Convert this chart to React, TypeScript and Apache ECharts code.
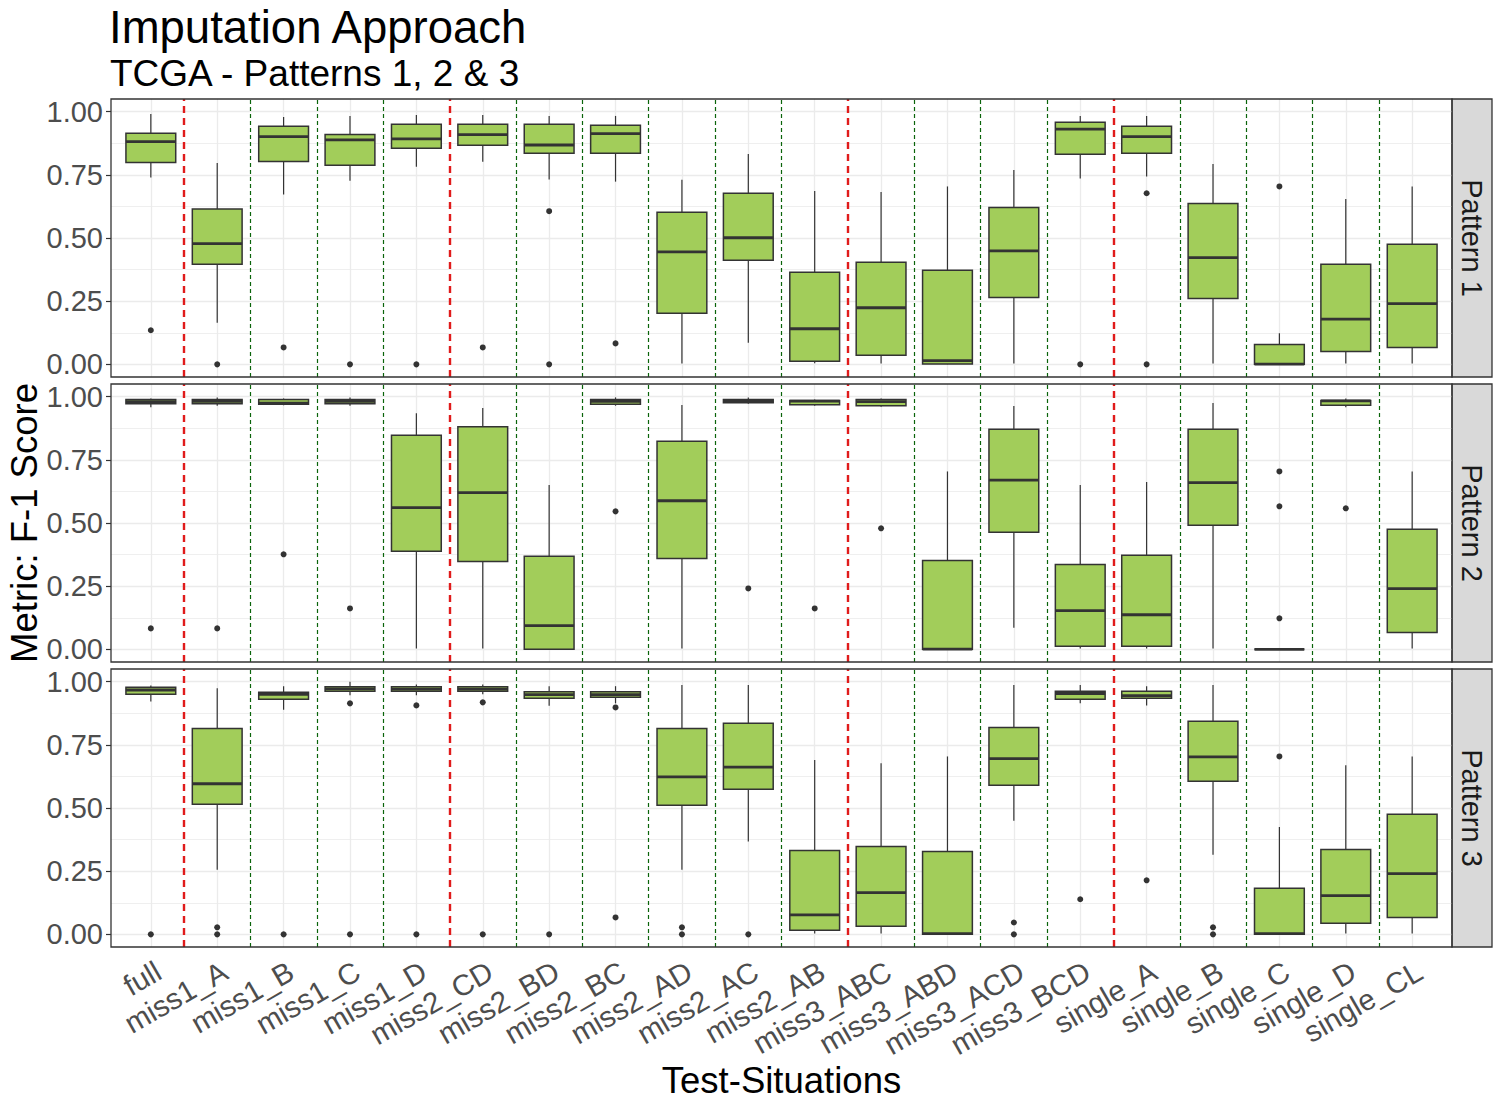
import React, { useEffect, useRef } from "react";
import * as echarts from "echarts";

const FONT = "'Liberation Sans', Arial, Helvetica, sans-serif";

const categories = [
  "full", "miss1_A", "miss1_B", "miss1_C", "miss1_D",
  "miss2_CD", "miss2_BD", "miss2_BC", "miss2_AD", "miss2_AC", "miss2_AB",
  "miss3_ABC", "miss3_ABD", "miss3_ACD", "miss3_BCD",
  "single_A", "single_B", "single_C", "single_D", "single_CL",
];

const panelNames = ["Pattern 1", "Pattern 2", "Pattern 3"];

// [lower whisker, Q1, median, Q3, upper whisker] per category
const pattern1Boxes = [
  [0.739, 0.799, 0.881, 0.914, 0.991],
  [0.165, 0.396, 0.478, 0.615, 0.797],
  [0.672, 0.803, 0.901, 0.942, 0.979],
  [0.727, 0.788, 0.888, 0.91, 0.983],
  [0.782, 0.855, 0.892, 0.95, 0.987],
  [0.802, 0.867, 0.909, 0.95, 0.987],
  [0.731, 0.835, 0.868, 0.95, 0.983],
  [0.723, 0.835, 0.913, 0.946, 0.983],
  [0.003, 0.202, 0.445, 0.602, 0.73],
  [0.086, 0.412, 0.501, 0.677, 0.832],
  [0.004, 0.012, 0.141, 0.364, 0.686],
  [0.003, 0.036, 0.224, 0.404, 0.682],
  [0.0, 0.001, 0.015, 0.372, 0.704],
  [0.003, 0.265, 0.449, 0.621, 0.769],
  [0.735, 0.831, 0.931, 0.958, 0.983],
  [0.743, 0.835, 0.901, 0.942, 0.983],
  [0.003, 0.261, 0.422, 0.637, 0.793],
  [0.0, 0.0, 0.001, 0.079, 0.123],
  [0.003, 0.051, 0.179, 0.396, 0.654],
  [0.003, 0.067, 0.24, 0.475, 0.704],
];

const pattern2Boxes = [
  [0.958, 0.972, 0.98, 0.989, 0.993],
  [0.964, 0.972, 0.981, 0.989, 0.997],
  [0.966, 0.97, 0.974, 0.989, 0.993],
  [0.964, 0.972, 0.981, 0.989, 0.997],
  [0.003, 0.388, 0.561, 0.847, 0.934],
  [0.003, 0.348, 0.62, 0.881, 0.955],
  [0.0, 0.0, 0.094, 0.368, 0.65],
  [0.964, 0.97, 0.981, 0.989, 0.997],
  [0.003, 0.36, 0.588, 0.823, 0.967],
  [0.972, 0.976, 0.983, 0.989, 0.997],
  [0.964, 0.968, 0.982, 0.985, 0.989],
  [0.96, 0.964, 0.98, 0.989, 0.993],
  [0.0, 0.0, 0.001, 0.352, 0.704],
  [0.086, 0.463, 0.67, 0.871, 0.963],
  [0.003, 0.012, 0.153, 0.336, 0.65],
  [0.003, 0.012, 0.137, 0.372, 0.662],
  [0.003, 0.491, 0.66, 0.871, 0.975],
  [0.0, 0.0, 0.0, 0.0, 0.0],
  [0.958, 0.966, 0.983, 0.985, 0.993],
  [0.003, 0.067, 0.24, 0.475, 0.704],
];

const pattern3Boxes = [
  [0.921, 0.95, 0.967, 0.978, 0.985],
  [0.256, 0.515, 0.596, 0.815, 0.974],
  [0.889, 0.93, 0.95, 0.958, 0.982],
  [0.946, 0.962, 0.971, 0.98, 1.0],
  [0.946, 0.962, 0.97, 0.98, 0.989],
  [0.95, 0.962, 0.97, 0.98, 0.989],
  [0.905, 0.934, 0.949, 0.96, 0.982],
  [0.914, 0.938, 0.949, 0.96, 0.982],
  [0.256, 0.511, 0.623, 0.815, 0.987],
  [0.367, 0.574, 0.662, 0.835, 0.987],
  [0.003, 0.016, 0.077, 0.332, 0.69],
  [0.003, 0.032, 0.165, 0.348, 0.677],
  [0.0, 0.0, 0.003, 0.328, 0.704],
  [0.45, 0.59, 0.695, 0.819, 0.987],
  [0.914, 0.93, 0.953, 0.962, 0.987],
  [0.906, 0.934, 0.945, 0.962, 0.982],
  [0.315, 0.606, 0.702, 0.843, 0.987],
  [0.0, 0.0, 0.003, 0.182, 0.425],
  [0.003, 0.044, 0.153, 0.336, 0.669],
  [0.003, 0.067, 0.24, 0.475, 0.704],
];

// outliers: [category, value]
const pattern1Outliers: [string, number][] = [
  ["full", 0.135], ["miss1_A", 0], ["miss1_B", 0.067], ["miss1_C", 0],
  ["miss1_D", 0], ["miss2_CD", 0.067], ["miss2_BD", 0.606], ["miss2_BD", 0],
  ["miss2_BC", 0.083], ["miss3_BCD", 0], ["single_A", 0.677], ["single_A", 0],
  ["single_C", 0.704],
];

const pattern2Outliers: [string, number][] = [
  ["full", 0.083], ["miss1_A", 0.083], ["miss1_B", 0.376], ["miss1_C", 0.162],
  ["miss2_BC", 0.546], ["miss2_AC", 0.241], ["miss2_AB", 0.162],
  ["miss3_ABC", 0.479], ["single_C", 0.704], ["single_C", 0.566],
  ["single_C", 0.123], ["single_D", 0.558],
];

const pattern3Outliers: [string, number][] = [
  ["full", 0], ["miss1_A", 0.028], ["miss1_A", 0], ["miss1_B", 0],
  ["miss1_C", 0.914], ["miss1_C", 0], ["miss1_D", 0.906], ["miss1_D", 0],
  ["miss2_CD", 0.918], ["miss2_CD", 0], ["miss2_BD", 0], ["miss2_BC", 0.898],
  ["miss2_BC", 0.067], ["miss2_AD", 0.028], ["miss2_AD", 0], ["miss2_AC", 0],
  ["miss3_ACD", 0.047], ["miss3_ACD", 0], ["miss3_BCD", 0.139],
  ["single_A", 0.214], ["single_B", 0.028], ["single_B", 0], ["single_C", 0.704],
];

const allBoxes = [pattern1Boxes, pattern2Boxes, pattern3Boxes];
const allOutliers = [pattern1Outliers, pattern2Outliers, pattern3Outliers];

// layout
const W = 1500;
const PLOT_LEFT = 111;
const PLOT_RIGHT = 1452;
const PANEL_TOPS = [99, 384, 669];
const PANEL_H = 278;
const X_MIN = -0.6;
const X_MAX = categories.length - 1 + 0.6;
const UNIT = (PLOT_RIGHT - PLOT_LEFT) / (X_MAX - X_MIN);
const Y_EXP = 0.05;
const INNER_OFF = (PANEL_H / (1 + 2 * Y_EXP)) * Y_EXP;
const STRIP_W = 40;

const GRID_LINE = "#ebebeb";
const BOX_FILL = "#a2cd5a";
const INK = "#333333";

function groupOf(name: string) {
  return name.split("_")[0];
}

function buildOption() {
  const grids: any[] = [];
  const xAxes: any[] = [];
  const yAxes: any[] = [];
  const series: any[] = [];
  const graphics: any[] = [];

  PANEL_TOPS.forEach((top) => {
    grids.push({
      left: PLOT_LEFT,
      right: W - PLOT_RIGHT,
      top,
      height: PANEL_H,
      show: true,
      backgroundColor: "transparent",
      borderColor: INK,
      borderWidth: 1.3,
      z: 5,
    });
  });
  PANEL_TOPS.forEach((top) => {
    grids.push({
      left: PLOT_LEFT,
      right: W - PLOT_RIGHT,
      top: top + INNER_OFF,
      height: PANEL_H - 2 * INNER_OFF,
    });
  });
  grids.push({
    left: PLOT_LEFT + 0.1 * UNIT,
    right: W - PLOT_RIGHT + 0.1 * UNIT,
    top: PANEL_TOPS[2],
    height: PANEL_H,
  });

  for (let p = 0; p < 3; p++) {
    xAxes.push({ type: "value", gridIndex: p, min: X_MIN, max: X_MAX, show: false });
    yAxes.push({ type: "value", gridIndex: p, min: -Y_EXP, max: 1 + Y_EXP, show: false });
  }
  for (let p = 0; p < 3; p++) {
    xAxes.push({ type: "value", gridIndex: 3 + p, min: X_MIN, max: X_MAX, show: false });
    yAxes.push({
      type: "value",
      gridIndex: 3 + p,
      position: "left",
      min: 0,
      max: 1,
      interval: 0.25,
      axisLine: { show: false, onZero: false },
      axisTick: { show: true, length: 5, lineStyle: { color: INK, width: 1.2 } },
      axisLabel: {
        show: true,
        margin: 8,
        fontSize: 29,
        color: "#4d4d4d",
        fontFamily: FONT,
        formatter: (v: number) => v.toFixed(2),
      },
      splitLine: { show: true, lineStyle: { color: GRID_LINE, width: 1.3 } },
      minorTick: { show: false, splitNumber: 2 },
      minorSplitLine: { show: true, lineStyle: { color: GRID_LINE, width: 0.8 } },
    });
  }
  xAxes.push({
    type: "category",
    gridIndex: 6,
    data: categories,
    boundaryGap: true,
    axisLine: { show: false, onZero: false },
    axisTick: { show: false },
    axisLabel: {
      interval: 0,
      rotate: 30,
      align: "right",
      verticalAlign: "top",
      margin: 9,
      fontSize: 29.5,
      color: "#4d4d4d",
      fontFamily: FONT,
    },
    splitLine: { show: false },
    name: "Test-Situations",
    nameLocation: "middle",
    nameGap: 100,
    nameTextStyle: { fontSize: 36.5, color: "#000", fontFamily: FONT },
  });
  yAxes.push({ type: "value", gridIndex: 6, min: 0, max: 1, show: false });

  const redSeps: any[] = [];
  const greenSeps: any[] = [];
  for (let i = 0; i < categories.length - 1; i++) {
    const major = groupOf(categories[i]) !== groupOf(categories[i + 1]);
    (major ? redSeps : greenSeps).push({ xAxis: i + 0.5 });
  }

  for (let p = 0; p < 3; p++) {
    series.push({
      type: "line",
      xAxisIndex: p,
      yAxisIndex: p,
      data: [],
      z: 1,
      silent: true,
      markLine: {
        z: 1,
        silent: true,
        symbol: ["none", "none"],
        label: { show: false },
        lineStyle: { color: GRID_LINE, width: 1.3, type: "solid" },
        data: categories.map((_, i) => ({ xAxis: i })),
      },
    });
    series.push({
      type: "line",
      xAxisIndex: p,
      yAxisIndex: p,
      data: [],
      z: 2,
      silent: true,
      markLine: {
        z: 2,
        silent: true,
        symbol: ["none", "none"],
        label: { show: false },
        lineStyle: { color: "#0a640a", width: 1.2, type: [4, 3], opacity: 1 },
        data: greenSeps,
      },
    });
    series.push({
      type: "line",
      xAxisIndex: p,
      yAxisIndex: p,
      data: [],
      z: 2,
      silent: true,
      markLine: {
        z: 2,
        silent: true,
        symbol: ["none", "none"],
        label: { show: false },
        lineStyle: { color: "#e01b1b", width: 2.4, type: [7, 5], opacity: 1 },
        data: redSeps,
      },
    });
    series.push({
      type: "custom",
      xAxisIndex: 3 + p,
      yAxisIndex: 3 + p,
      z: 10,
      clip: false,
      silent: true,
      encode: { x: 0, y: [1, 2, 3, 4, 5] },
      data: allBoxes[p].map((b, i) => [i, ...b]),
      renderItem: (params: any, api: any) => {
        const x = api.value(0);
        const lo = api.coord([x, api.value(1)]);
        const q1 = api.coord([x, api.value(2)]);
        const md = api.coord([x, api.value(3)]);
        const q3 = api.coord([x, api.value(4)]);
        const hi = api.coord([x, api.value(5)]);
        const half = api.size([0.75, 0])[0] / 2;
        const cx = md[0];
        return {
          type: "group",
          children: [
            {
              type: "line",
              shape: { x1: cx, y1: lo[1], x2: cx, y2: q1[1] },
              style: { stroke: INK, lineWidth: 1.2 },
            },
            {
              type: "line",
              shape: { x1: cx, y1: q3[1], x2: cx, y2: hi[1] },
              style: { stroke: INK, lineWidth: 1.2 },
            },
            {
              type: "rect",
              shape: { x: cx - half, y: q3[1], width: half * 2, height: q1[1] - q3[1] },
              style: { fill: BOX_FILL, stroke: INK, lineWidth: 1.5 },
            },
            {
              type: "line",
              shape: { x1: cx - half, y1: md[1], x2: cx + half, y2: md[1] },
              style: { stroke: INK, lineWidth: 2.8 },
            },
          ],
        };
      },
    });
    series.push({
      type: "scatter",
      xAxisIndex: 3 + p,
      yAxisIndex: 3 + p,
      z: 11,
      clip: false,
      silent: true,
      symbol: "circle",
      symbolSize: 6,
      itemStyle: { color: INK, opacity: 1 },
      data: allOutliers[p].map(([c, v]) => [categories.indexOf(c), v]),
    });

    graphics.push({
      type: "rect",
      shape: { x: PLOT_RIGHT, y: PANEL_TOPS[p], width: STRIP_W, height: PANEL_H },
      style: { fill: "#d9d9d9", stroke: INK, lineWidth: 1.3 },
      silent: true,
    });
    graphics.push({
      type: "text",
      x: PLOT_RIGHT + STRIP_W / 2,
      y: PANEL_TOPS[p] + PANEL_H / 2,
      rotation: -Math.PI / 2,
      style: {
        text: panelNames[p],
        fontSize: 29,
        fontFamily: FONT,
        fill: "#1a1a1a",
        textAlign: "center",
        textVerticalAlign: "middle",
      },
      silent: true,
    });
  }

  graphics.push({
    type: "text",
    x: 24,
    y: PANEL_TOPS[1] + PANEL_H / 2,
    rotation: Math.PI / 2,
    style: {
      text: "Metric: F-1 Score",
      fontSize: 36.5,
      fontFamily: FONT,
      fill: "#000",
      textAlign: "center",
      textVerticalAlign: "middle",
    },
    silent: true,
  });

  return {
    animation: false,
    backgroundColor: "#ffffff",
    title: [
      {
        text: "Imputation Approach",
        left: PLOT_LEFT - 2,
        top: 4,
        padding: 0,
        textStyle: { fontSize: 45.5, fontWeight: "normal", color: "#000", fontFamily: FONT },
      },
      {
        text: "TCGA - Patterns 1, 2 & 3",
        left: PLOT_LEFT - 1,
        top: 55,
        padding: 0,
        textStyle: { fontSize: 37, fontWeight: "normal", color: "#000", fontFamily: FONT },
      },
    ],
    grid: grids,
    xAxis: xAxes,
    yAxis: yAxes,
    series,
    graphic: graphics,
  };
}

export default function App() {
  const ref = useRef<HTMLDivElement>(null);
  useEffect(() => {
    if (!ref.current) return;
    const chart = echarts.init(ref.current, undefined, { renderer: "svg" });
    chart.setOption(buildOption() as any);
    return () => chart.dispose();
  }, []);
  return (
    <div
      ref={ref}
      style={{ position: "fixed", left: 0, top: 0, width: 1500, height: 1100, background: "#fff" }}
    />
  );
}
